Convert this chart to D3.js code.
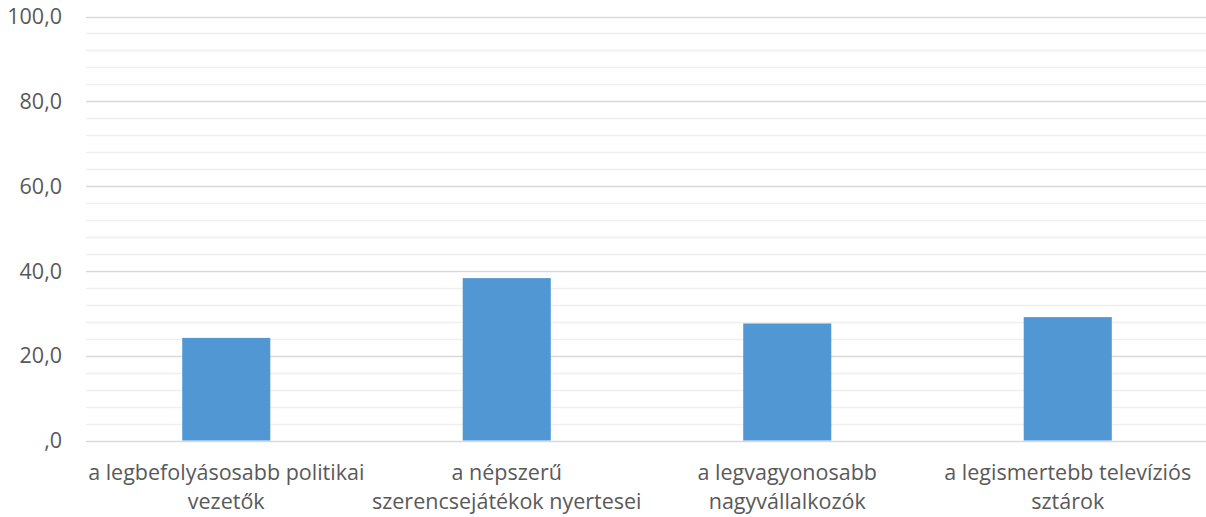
<!DOCTYPE html>
<html><head><meta charset="utf-8">
<script src="https://cdn.jsdelivr.net/npm/d3@7"></script>
<style>body{margin:0;background:#fff}svg{display:block}</style>
</head><body>
<svg id="c" width="1206" height="517"></svg>
<script>
const categories = [
  ["a legbefolyásosabb politikai", "vezetők"],
  ["a népszerű", "szerencsejátékok nyertesei"],
  ["a legvagyonosabb", "nagyvállalkozók"],
  ["a legismertebb televíziós", "sztárok"]
];
const values = [24.2, 38.3, 27.6, 29.1];
const majorTicks = [0, 20, 40, 60, 80, 100];
const minorTicks = d3.range(0, 101, 4);
const tickLabels = [",0", "20,0", "40,0", "60,0", "80,0", "100,0"];

(function () {
const svg = d3.select("#c");
const pLeft = 86, pRight = 1208, pTop = 16.5, pBottom = 440.5;
const y = d3.scaleLinear().domain([0, 100]).range([pBottom, pTop]);
const x = d3.scaleBand().domain(d3.range(categories.length)).range([pLeft, pRight])
  .paddingInner(0.686).paddingOuter(0.343);
const font = "'Open Sans', sans-serif";

svg.append("g").selectAll("line").data(minorTicks.filter(t => t % 20 !== 0)).join("line")
  .attr("x1", pLeft).attr("x2", 1206).attr("y1", d => Math.round(y(d)) + 0.5).attr("y2", d => Math.round(y(d)) + 0.5)
  .attr("stroke", "#efefef").attr("stroke-width", 1.3);
svg.append("g").selectAll("line").data(majorTicks).join("line")
  .attr("x1", pLeft).attr("x2", 1206).attr("y1", d => Math.round(y(d)) + 0.5).attr("y2", d => Math.round(y(d)) + 0.5)
  .attr("stroke", "#d9d9d9").attr("stroke-width", 1.3);

svg.append("g").selectAll("rect").data(values).join("rect")
  .attr("x", (d, i) => x(i)).attr("width", x.bandwidth())
  .attr("y", d => y(d)).attr("height", d => y(0) - y(d))
  .attr("fill", "#5097d3");

svg.append("g").selectAll("text").data(majorTicks).join("text")
  .attr("x", 62).attr("y", d => y(d)).attr("dy", "0.36em")
  .attr("text-anchor", "end").attr("font-family", font).attr("font-size", 21.5)
  .attr("fill", "#595959").text((d, i) => tickLabels[i]);

const g = svg.append("g").selectAll("text").data(categories).join("text")
  .attr("text-anchor", "middle").attr("font-family", font).attr("font-size", 21.5)
  .attr("fill", "#595959");
g.selectAll("tspan").data((d, i) => d.map(s => ({s, i}))).join("tspan")
  .attr("x", d => x(d.i) + x.bandwidth() / 2)
  .attr("y", (d, j) => 480 + j * 28.5)
  .text(d => d.s);
})();
</script>
</body></html>
